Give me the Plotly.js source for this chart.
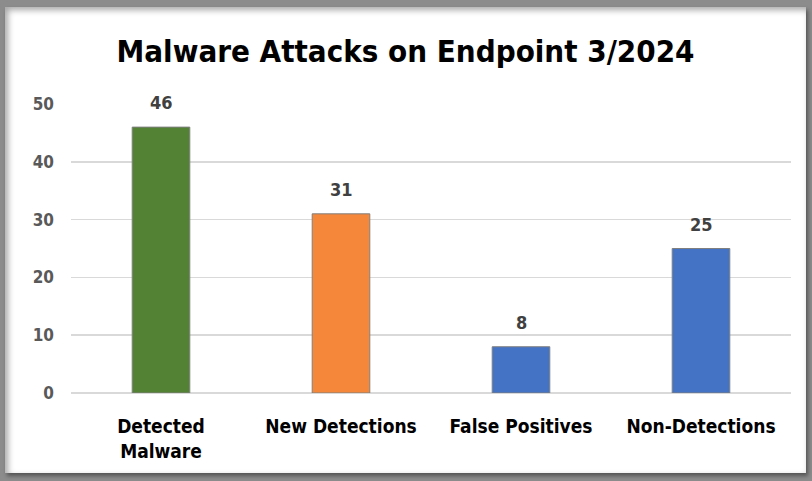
<!DOCTYPE html>
<html>
<head>
<meta charset="utf-8">
<script src="https://cdn.plot.ly/plotly-3.0.1.min.js"></script>
<style>
  html, body { margin: 0; padding: 0; }
  body { width: 812px; height: 481px; background: #8c8c8c; position: relative; overflow: hidden; }
  #frame {
    position: absolute; left: 5px; top: 7px; width: 801px; height: 466px;
    background: #ffffff;
    box-shadow: inset 3px 3px 6px rgba(0,0,0,0.35), 2px 3px 4px rgba(0,0,0,0.4);
  }
  #chart { width: 801px; height: 466px; }
</style>
</head>
<body>
<div id="frame"><div id="chart"></div></div>
<script>
// chart data
const categories = ['Detected<br>Malware', 'New Detections', 'False Positives', 'Non-Detections'];
const counts = [46, 31, 8, 25];
const barColors = ['#548235', '#F4873A', '#4472C4', '#4472C4'];
const yTicks = [0, 10, 20, 30, 40, 50];

const labelFont = 'Liberation Sans Narrow, DejaVu Sans Condensed, Open Sans, sans-serif';

const bars = {
  x: categories,
  y: counts,
  type: 'bar',
  width: 0.32,
  marker: {
    color: barColors,
    line: { color: '#7f7f7f', width: 1 }
  },
  hoverinfo: 'skip'
};

const valueLabels = categories.map((c, i) => ({
  x: c,
  y: counts[i],
  text: '<b>' + counts[i] + '</b>',
  showarrow: false,
  yanchor: 'bottom',
  yshift: 12,
  font: { family: labelFont, size: 18, color: '#404040' }
}));

const layout = {
  width: 801,
  height: 466,
  title: {
    text: '<b>Malware Attacks on Endpoint 3/2024</b>',
    font: { family: labelFont, size: 31, color: '#000000' },
    x: 0.5,
    xanchor: 'center',
    y: 0.905,
    yanchor: 'middle'
  },
  xaxis: {
    type: 'category',
    tickvals: categories,
    ticktext: categories.map(c => '<b>' + c + '</b>'),
    tickfont: { family: labelFont, size: 19, color: '#000000' },
    ticks: '',
    showline: false,
    ticklabelstandoff: 20
  },
  yaxis: {
    range: [0, 50],
    tickvals: yTicks,
    ticktext: yTicks.map(v => '<b>' + v + '</b>'),
    tickfont: { family: labelFont, size: 17, color: '#595959' },
    gridcolor: '#d9d9d9',
    gridwidth: 1.5,
    zeroline: true,
    zerolinecolor: '#d9d9d9',
    zerolinewidth: 1.5,
    ticklabelstandoff: 16
  },
  annotations: valueLabels,
  showlegend: false,
  plot_bgcolor: 'rgba(0,0,0,0)',
  paper_bgcolor: 'rgba(0,0,0,0)',
  margin: { t: 97, b: 80, l: 66, r: 15 }
};

Plotly.newPlot('chart', [bars], layout, { displayModeBar: false, staticPlot: true });
</script>
</body>
</html>
